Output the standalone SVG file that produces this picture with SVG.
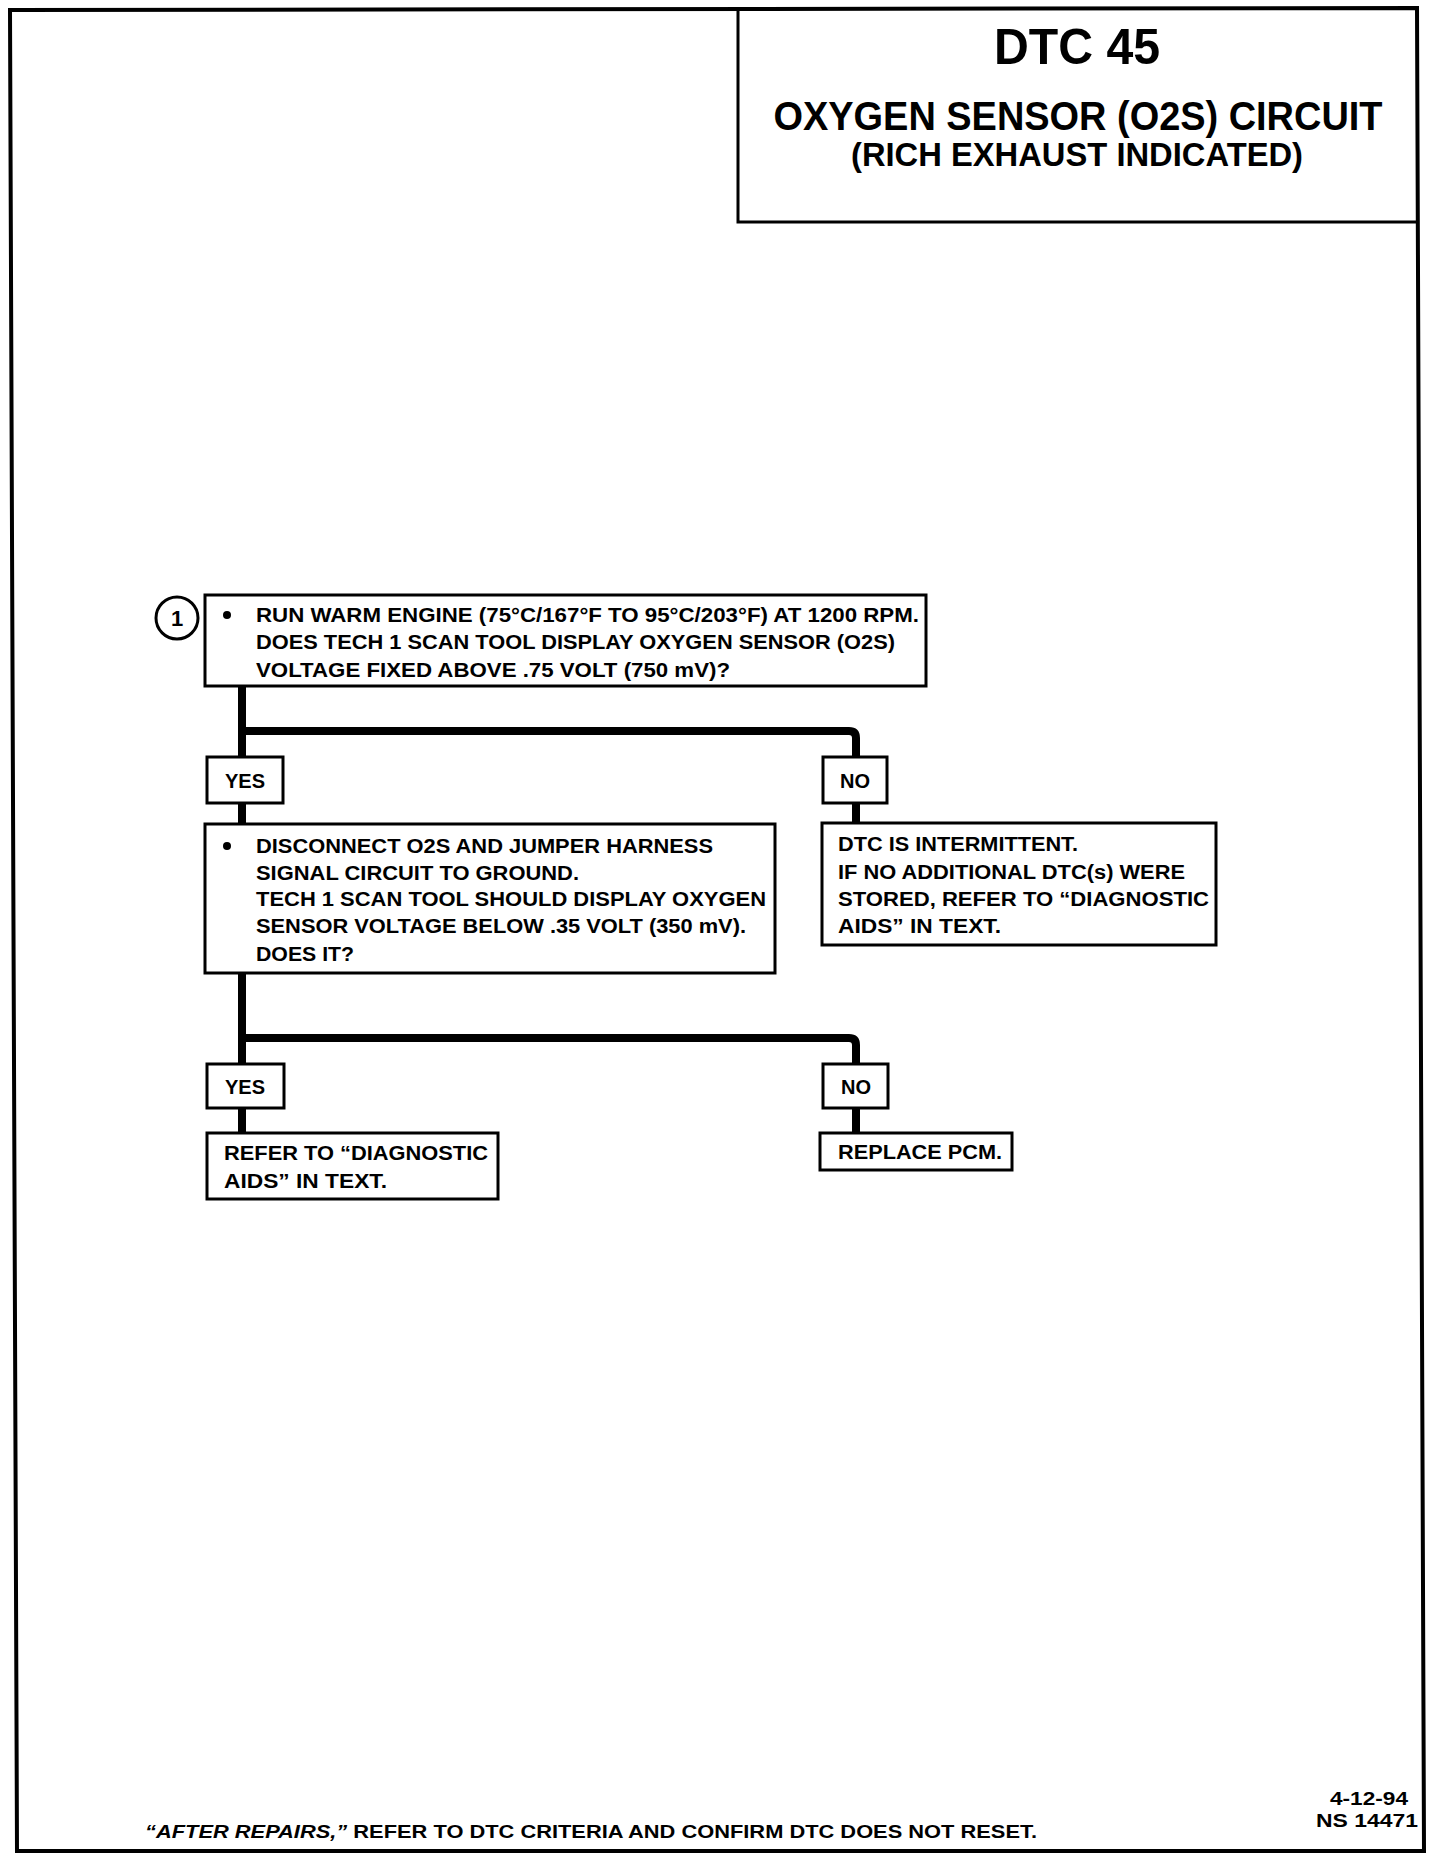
<svg xmlns="http://www.w3.org/2000/svg" width="1440" height="1864" viewBox="0 0 1440 1864">
<style>
.t{font-family:"Liberation Sans",Arial,sans-serif;font-weight:bold;fill:#000}
.b{font-size:20px}
.box{fill:#fff;stroke:#000;stroke-width:3}
.conn{fill:none;stroke:#000;stroke-width:8;stroke-linejoin:round}
</style>
<rect width="1440" height="1864" fill="#fff"/>
<path d="M10,10 L1417,8 L1424,1851 L17,1851 Z" fill="none" stroke="#000" stroke-width="4"/>
<g id="title">
<path d="M738,10 V222 H1418" fill="none" stroke="#000" stroke-width="3"/>
<text class="t" x="1077" y="64" font-size="50" text-anchor="middle" textLength="166" lengthAdjust="spacingAndGlyphs">DTC 45</text>
<text class="t" x="1078" y="130" font-size="40" text-anchor="middle" textLength="609" lengthAdjust="spacingAndGlyphs">OXYGEN SENSOR (O2S) CIRCUIT</text>
<text class="t" x="1077" y="166" font-size="34" text-anchor="middle" textLength="452" lengthAdjust="spacingAndGlyphs">(RICH EXHAUST INDICATED)</text>
</g>
<g id="connectors">
<path class="conn" d="M242,686 V757"/>
<path class="conn" d="M242,731 H849 Q856,731 856,738 V757"/>
<path class="conn" d="M242,803 V824"/>
<path class="conn" d="M856,803 V823"/>
<path class="conn" d="M242,973 V1064"/>
<path class="conn" d="M242,1038 H849 Q856,1038 856,1045 V1064"/>
<path class="conn" d="M242,1108 V1133"/>
<path class="conn" d="M856,1108 V1133"/>
</g>
<g id="step1">
<circle cx="177" cy="618" r="21" fill="#fff" stroke="#000" stroke-width="3"/>
<text class="t" x="177" y="626" font-size="22" text-anchor="middle">1</text>
</g>
<g id="box1">
<rect class="box" x="205" y="595" width="721" height="91"/>
<circle cx="227" cy="615" r="4"/>
<text class="t b" x="256" y="622" textLength="663" lengthAdjust="spacingAndGlyphs">RUN WARM ENGINE  (75°C/167°F TO 95°C/203°F) AT 1200 RPM.</text>
<text class="t b" x="256" y="649" textLength="639" lengthAdjust="spacingAndGlyphs">DOES TECH 1 SCAN TOOL DISPLAY OXYGEN SENSOR (O2S)</text>
<text class="t b" x="256" y="677" textLength="474" lengthAdjust="spacingAndGlyphs">VOLTAGE  FIXED ABOVE .75 VOLT  (750 mV)?</text>
</g>
<g id="yes1">
<rect class="box" x="207" y="757" width="76" height="46"/>
<text class="t b" x="245" y="788" text-anchor="middle">YES</text>
</g>
<g id="no1">
<rect class="box" x="823" y="757" width="64" height="46"/>
<text class="t b" x="855" y="788" text-anchor="middle">NO</text>
</g>
<g id="box2">
<rect class="box" x="205" y="824" width="570" height="149"/>
<circle cx="227" cy="846" r="4"/>
<text class="t b" x="256" y="853" textLength="457" lengthAdjust="spacingAndGlyphs">DISCONNECT O2S AND JUMPER HARNESS</text>
<text class="t b" x="256" y="880" textLength="323" lengthAdjust="spacingAndGlyphs">SIGNAL CIRCUIT TO GROUND.</text>
<text class="t b" x="256" y="906" textLength="510" lengthAdjust="spacingAndGlyphs">TECH 1 SCAN TOOL SHOULD DISPLAY OXYGEN</text>
<text class="t b" x="256" y="933" textLength="490" lengthAdjust="spacingAndGlyphs">SENSOR VOLTAGE BELOW .35 VOLT (350 mV).</text>
<text class="t b" x="256" y="961" textLength="98" lengthAdjust="spacingAndGlyphs">DOES IT?</text>
</g>
<g id="box3">
<rect class="box" x="822" y="823" width="394" height="122"/>
<text class="t b" x="838" y="851" textLength="240" lengthAdjust="spacingAndGlyphs">DTC IS INTERMITTENT.</text>
<text class="t b" x="838" y="879" textLength="347" lengthAdjust="spacingAndGlyphs">IF NO ADDITIONAL DTC(s) WERE</text>
<text class="t b" x="838" y="906" textLength="371" lengthAdjust="spacingAndGlyphs">STORED, REFER TO  “DIAGNOSTIC</text>
<text class="t b" x="838" y="933" textLength="163" lengthAdjust="spacingAndGlyphs">AIDS” IN TEXT.</text>
</g>
<g id="yes2">
<rect class="box" x="207" y="1064" width="77" height="44"/>
<text class="t b" x="245" y="1094" text-anchor="middle">YES</text>
</g>
<g id="no2">
<rect class="box" x="823" y="1064" width="65" height="44"/>
<text class="t b" x="856" y="1094" text-anchor="middle">NO</text>
</g>
<g id="box4">
<rect class="box" x="207" y="1133" width="291" height="66"/>
<text class="t b" x="224" y="1160" textLength="264" lengthAdjust="spacingAndGlyphs">REFER TO “DIAGNOSTIC</text>
<text class="t b" x="224" y="1188" textLength="163" lengthAdjust="spacingAndGlyphs">AIDS” IN TEXT.</text>
</g>
<g id="box5">
<rect class="box" x="820" y="1133" width="192" height="37"/>
<text class="t b" x="838" y="1159" textLength="164" lengthAdjust="spacingAndGlyphs">REPLACE PCM.</text>
</g>
<g id="footer">
<text class="t" x="145" y="1838" font-size="19" textLength="892" lengthAdjust="spacingAndGlyphs"><tspan font-style="italic">“AFTER REPAIRS,”</tspan> REFER TO DTC CRITERIA AND CONFIRM DTC DOES NOT RESET.</text>
<text class="t" x="1330" y="1805" font-size="19" textLength="78" lengthAdjust="spacingAndGlyphs">4-12-94</text>
<text class="t" x="1316" y="1827" font-size="19" textLength="102" lengthAdjust="spacingAndGlyphs">NS 14471</text>
</g>
</svg>
